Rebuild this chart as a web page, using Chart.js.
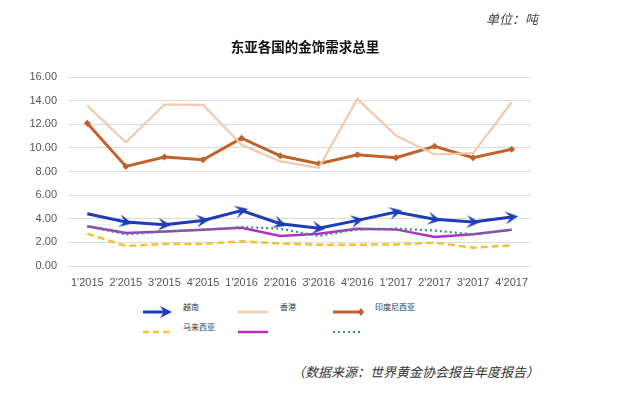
<!DOCTYPE html>
<html>
<head>
<meta charset="utf-8">
<script src="https://cdn.jsdelivr.net/npm/chart.js@4"></script>
<style>
  body { margin: 0; background: #fff; }
  #wrap { position: relative; width: 634px; height: 396px; overflow: hidden; font-family: "Noto Sans CJK SC", sans-serif; }
  #c { position: absolute; left: 0; top: 0; }
  .txt { position: absolute; white-space: nowrap; }
  .unit { left: 486px; top: 9px; font-size: 13px; font-style: italic; color: #444; }
  .title { left: 0; width: 610px; text-align: center; top: 36px; font-size: 13.5px; font-weight: bold; color: #111; }
  .src { left: 292px; top: 362px; font-size: 13px; font-style: italic; color: #333; }
  .lg { position: absolute; }
  .lgt { position: absolute; font-size: 8px; color: #333; line-height: 10px; }
</style>
</head>
<body>
<div id="wrap">
  <canvas id="c" width="634" height="300"></canvas>
  <div class="txt unit">单位：吨</div>
  <div class="txt title">东亚各国的金饰需求总里</div>
  <div class="txt src">（数据来源：世界黄金协会报告年度报告）</div>
  <div id="legend"></div>
</div>
<script>
// ---------------- DATA ----------------
const quarters = ["1'2015", "2'2015", "3'2015", "4'2015", "1'2016", "2'2016",
                  "3'2016", "4'2016", "1'2017", "2'2017", "3'2017", "4'2017"];

const vietnam   = [4.43, 3.72, 3.50, 3.86, 4.70, 3.58, 3.20, 3.86, 4.57, 3.95, 3.72, 4.14];
const hongkong  = [13.58, 10.48, 13.67, 13.64, 10.26, 8.85, 8.32, 14.15, 11.05, 9.44, 9.55, 13.86];
const indonesia = [12.09, 8.43, 9.22, 8.99, 10.82, 9.33, 8.65, 9.41, 9.16, 10.14, 9.16, 9.89];
const malaysia  = [2.74, 1.69, 1.86, 1.86, 2.09, 1.90, 1.80, 1.80, 1.83, 1.98, 1.55, 1.75];
const purple    = [3.36, 2.80, 2.93, 3.07, 3.24, 2.54, 2.74, 3.16, 3.10, 2.45, 2.68, 3.07];
const green     = [3.36, 2.68, 2.90, 3.07, 3.30, 3.16, 2.54, 3.10, 3.16, 3.00, 2.68, 3.07];

const yTicks = [0, 2, 4, 6, 8, 10, 12, 14, 16];

const C_BLUE = "#1d3cb6", C_HK = "#f3c8ab", C_BROWN = "#c0632b",
      C_YEL = "#f1c232", C_PUR = "#b12fc4", C_GRN = "#2f9a6c";

// arrow head used as point marker on the Vietnam line
function makeArrow(size) {
  const cv = document.createElement("canvas");
  cv.width = size; cv.height = size;
  const g = cv.getContext("2d");
  const m = size / 2;
  g.fillStyle = C_BLUE;
  g.beginPath();
  g.moveTo(size - 1, m);
  g.lineTo(1, 1);
  g.lineTo(m - 1, m);
  g.lineTo(1, size - 1);
  g.closePath();
  g.fill();
  return cv;
}
const arrowImg = makeArrow(15);

function arrowAngle(c) {
  const i = c.dataIndex;
  if (!i) return 0;
  const xs = c.chart.scales.x, ys = c.chart.scales.y;
  const dx = xs.getPixelForValue(i) - xs.getPixelForValue(i - 1);
  const dy = ys.getPixelForValue(vietnam[i]) - ys.getPixelForValue(vietnam[i - 1]);
  return Math.atan2(dy, dx) * 180 / Math.PI;
}

// ---------------- CHART ----------------
new Chart(document.getElementById("c"), {
  type: "line",
  data: {
    labels: quarters,
    datasets: [
      { label: "香港", data: hongkong, borderColor: C_HK, borderWidth: 2.2, pointRadius: 0 },
      { label: "印度尼西亚", data: indonesia, borderColor: C_BROWN, borderWidth: 3,
        pointStyle: "rectRot", pointRadius: 3.5, backgroundColor: C_BROWN, pointBorderColor: C_BROWN, pointBorderWidth: 0 },
      { label: "马来西亚", data: malaysia, borderColor: C_YEL, borderWidth: 2.5, borderDash: [7, 4], pointRadius: 0 },
      { label: "", data: green, borderColor: C_GRN, borderWidth: 2.2, borderDash: [2, 3], pointRadius: 0 },
      { label: " ", data: purple, borderColor: C_PUR, borderWidth: 2.5, pointRadius: 0 },
      { label: "越南", data: vietnam, borderColor: C_BLUE, borderWidth: 3,
        pointStyle: arrowImg, pointRadius: c => (c.dataIndex === 0 ? 0 : 5), rotation: arrowAngle }
    ]
  },
  options: {
    responsive: false,
    animation: false,
    events: [],
    elements: { line: { tension: 0, borderCapStyle: "butt" } },
    layout: { padding: { left: 0, top: 77, right: 103, bottom: 0 } },
    plugins: { legend: { display: false }, tooltip: { enabled: false } },
    scales: {
      x: {
        offset: true,
        grid: { display: false },
        border: { display: false },
        ticks: { autoSkip: false, maxRotation: 0, padding: 2, color: "#555",
                 font: { family: "Liberation Sans, Arial", size: 11 } },
        afterFit: s => { s.height = 34; }
      },
      y: {
        min: 0, max: 16,
        afterBuildTicks: s => { s.ticks = yTicks.map(v => ({ value: v })); },
        grid: { color: "#dcdcdc", drawTicks: false, lineWidth: 1 },
        border: { display: false },
        ticks: { padding: 11, color: "#555", callback: v => Number(v).toFixed(2),
                 font: { family: "Liberation Sans, Arial", size: 11 } },
        afterFit: s => { s.width = 68; }
      }
    }
  }
});

// ---------------- LEGEND (html) ----------------
const legendItems = [
  { x: 143, y: 307, label: "越南", lx: 183, svg: `<svg width="30" height="14"><line x1="0" y1="7" x2="22" y2="7" stroke="${C_BLUE}" stroke-width="3"/><polygon points="29,7 17,1 21,7 17,13" fill="${C_BLUE}"/></svg>` },
  { x: 238, y: 307, label: "香港", lx: 280, svg: `<svg width="30" height="14"><line x1="0" y1="7" x2="30" y2="7" stroke="${C_HK}" stroke-width="2.5"/></svg>` },
  { x: 333, y: 307, label: "印度尼西亚", lx: 375, svg: `<svg width="32" height="14"><line x1="0" y1="7" x2="28" y2="7" stroke="${C_BROWN}" stroke-width="3"/><polygon points="28,3 31,7 28,11 25,7" fill="${C_BROWN}"/></svg>` },
  { x: 143, y: 327, label: "马来西亚", lx: 183, svg: `<svg width="28" height="14"><line x1="0" y1="7" x2="27" y2="7" stroke="${C_YEL}" stroke-width="2.5" stroke-dasharray="6 4"/></svg>` },
  { x: 238, y: 327, label: "", lx: 280, svg: `<svg width="30" height="14"><line x1="0" y1="7" x2="30" y2="7" stroke="${C_PUR}" stroke-width="2.5"/></svg>` },
  { x: 333, y: 327, label: "", lx: 375, svg: `<svg width="28" height="14"><line x1="0" y1="7" x2="27" y2="7" stroke="${C_GRN}" stroke-width="2" stroke-dasharray="2 3"/></svg>` }
];
const lg = document.getElementById("legend");
legendItems.forEach(it => {
  const s = document.createElement("div");
  s.className = "lg";
  s.style.left = it.x + "px";
  s.style.top = (it.y - 7) + "px";
  s.innerHTML = it.svg;
  lg.appendChild(s);
  const t = document.createElement("div");
  t.className = "lgt";
  t.style.left = it.lx + "px";
  t.style.top = (it.y - 5) + "px";
  t.textContent = it.label;
  lg.appendChild(t);
});
</script>
</body>
</html>
